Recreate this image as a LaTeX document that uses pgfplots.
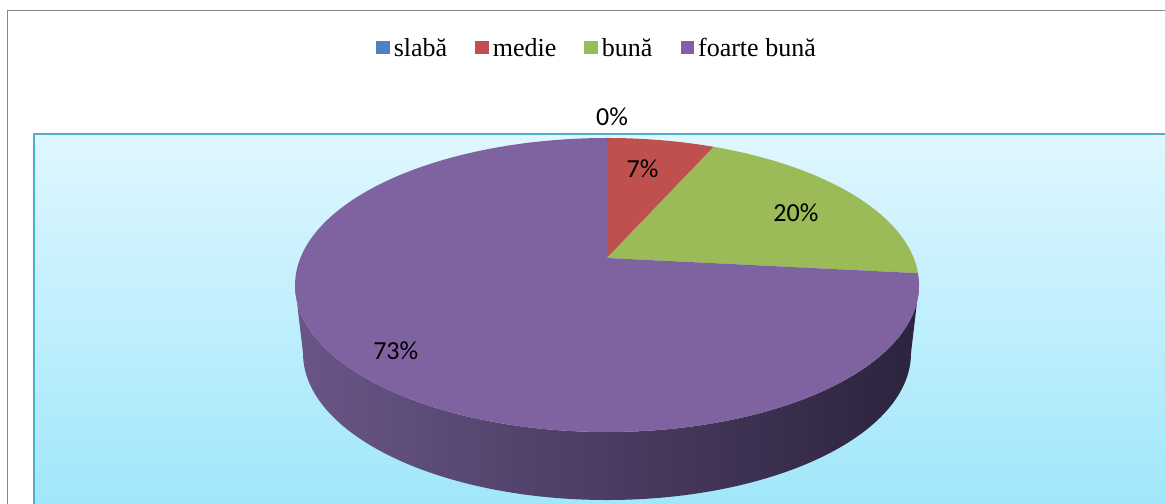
\documentclass[border=0pt]{standalone}
\usepackage{pgfplots}
\usepackage{pgfplotstable}
\pgfplotsset{compat=1.18}
\usepackage{fontspec}
\setmainfont{Liberation Serif}
\newfontfamily\labelfont{Carlito}

\definecolor{slabaC}{HTML}{4F81BD}
\definecolor{medieC}{HTML}{C0504D}
\definecolor{bunaC}{HTML}{9BBB59}
\definecolor{fbunaC}{HTML}{7F62A0}
\definecolor{sideL}{HTML}{6A5687}
\definecolor{sideM}{HTML}{46385C}
\definecolor{sideR}{HTML}{2C233D}
\definecolor{areaTop}{HTML}{DFF7FE}
\definecolor{areaBot}{HTML}{9FE6FB}
\definecolor{areaLine}{HTML}{4FAFCB}

% shares in percent
\pgfplotstableread{
cat share
slaba 0
medie 6.67
buna 20
fbuna 73.33
}\shares

% pie geometry, in px of the picture
\def\cx{607}\def\cy{258}   % apex
\def\ecy{285}              % centre of the top ellipse
\def\rx{312}\def\ry{147}
\def\rxb{304}              % bottom rim is a bit narrower
\def\persp{0.184}
\def\Kx{306.7}\def\Cy{142.1}
\def\depth{68}

% angle #1, radius factor #2 -> #3x, #3y, #3t (angle on the ellipse)
\newcommand\piepoint[3]{%
  \pgfmathsetmacro\pden{1+\persp*(#2)*sin(#1)}%
  \pgfmathsetmacro\pX{(#2)*\Kx*cos(#1)/\pden}%
  \pgfmathsetmacro\pY{(#2)*\Cy*sin(#1)/\pden}%
  \pgfmathsetmacro\ptmp{\cx+\pX}\expandafter\xdef\csname #3x\endcsname{\ptmp}%
  \pgfmathsetmacro\ptmp{\cy-\pY}\expandafter\xdef\csname #3y\endcsname{\ptmp}%
  \pgfmathsetmacro\ptmp{atan2((\pY+\ecy-\cy)/\ry,\pX/\rx)}%
  \expandafter\xdef\csname #3t\endcsname{\ptmp}%
}

% label point for a slice: mid angle #1, share #2, name #3
\newcommand\labelpoint[3]{%
  \pgfmathsetmacro\lr{ifthenelse(#2<1,1.2,0.8)}%
  \piepoint{#1}{\lr}{#3}%
  \pgfmathsetmacro\ltmp{\csname #3x\endcsname+ifthenelse(#2<1,5,-9)}%
  \expandafter\xdef\csname #3x\endcsname{\ltmp}%
  \pgfmathsetmacro\ltmp{\csname #3y\endcsname+ifthenelse(#2<1,-2,8)}%
  \expandafter\xdef\csname #3y\endcsname{\ltmp}%
}

\newcommand\slice[3]{%
  \pgfmathsetmacro\sS{\csname #2t\endcsname}%
  \pgfmathsetmacro\sE{\csname #3t\endcsname}%
  \pgfmathsetmacro\sE{ifthenelse(\sE>\sS+0.001,\sE-360,\sE)}%
  \edef\slicecmd{\noexpand\fill[#1] (axis cs:\cx,\cy) --
    (axis cs:\csname #2x\endcsname,\csname #2y\endcsname)
    arc[start angle=\sS,end angle=\sE,x radius=\rx*0.5pt,y radius=\ry*0.5pt] -- cycle;}%
  \slicecmd}

\begin{document}
\begin{tikzpicture}
  \pgfplotstablegetelem{0}{share}\of\shares\let\vA\pgfplotsretval
  \pgfplotstablegetelem{1}{share}\of\shares\let\vB\pgfplotsretval
  \pgfplotstablegetelem{2}{share}\of\shares\let\vC\pgfplotsretval
  \pgfplotstablegetelem{3}{share}\of\shares\let\vD\pgfplotsretval
  \pgfmathsetmacro\aA{90}
  \pgfmathsetmacro\aB{\aA-3.6*\vA}
  \pgfmathsetmacro\aC{\aB-3.6*\vB}
  \pgfmathsetmacro\aD{\aC-3.6*\vC}
  \pgfmathsetmacro\aE{\aD-3.6*\vD}
  \piepoint{\aA}{1}{pA}\piepoint{\aB}{1}{pB}\piepoint{\aC}{1}{pC}
  \piepoint{\aD}{1}{pD}\piepoint{\aE}{1}{pE}
  \labelpoint{(\aA+\aB)/2}{\vA}{lA}
  \labelpoint{(\aB+\aC)/2}{\vB}{lB}
  \labelpoint{(\aC+\aD)/2}{\vC}{lC}
  \labelpoint{(\aD+\aE)/2}{\vD}{lD}
  \pgfmathsetmacro\exl{\cx-\rx}
  \pgfmathsetmacro\exr{\cx+\rxb}
  \pgfmathsetmacro\eyb{\ecy+\depth}

  \begin{axis}[
    name=ax,
    x=0.5pt, y=0.5pt,
    xmin=0, xmax=1165, ymin=0, ymax=503,
    y dir=reverse,
    enlargelimits=false,
    hide axis,
    legend columns=4,
    legend cell align=left,
    legend image code/.code={\fill[#1] (0pt,-2.7pt) rectangle (6.8pt,4.1pt);},
    legend style={at={(axis cs:598,49)}, anchor=center, draw=none, fill=none,
      font=\fontsize{13pt}{15pt}\selectfont,
      nodes={inner xsep=2pt},
      /tikz/every even column/.append style={column sep=12pt}},
  ]
    % chart border and plot area
    \draw[color=black!47, line width=0.75pt] (axis cs:7.5,700) |- (axis cs:1300,10.5);
    \shade[top color=areaTop, bottom color=areaBot] (axis cs:34,134) rectangle (axis cs:1300,515);
    \draw[color=areaLine, line width=1pt] (axis cs:34,700) |- (axis cs:1300,134);

    % side of the pie
    \shade[left color=sideL, middle color=sideM, right color=sideR]
      (axis cs:\exl,\ecy) arc[start angle=180, end angle=360, x radius=\rx*0.5pt, y radius=\ry*0.5pt]
      -- (axis cs:\exr,\eyb)
      arc[start angle=0, end angle=-180, x radius=\rxb*0.5pt, y radius=\ry*0.5pt] -- cycle;

    % top of the pie
    \slice{slabaC}{pA}{pB}
    \slice{medieC}{pB}{pC}
    \slice{bunaC}{pC}{pD}
    \slice{fbunaC}{pD}{pE}

    % data labels
    \begin{scope}[every node/.style={font=\labelfont\fontsize{13pt}{15pt}\selectfont, inner sep=0pt},
                  /pgf/number format/.cd, fixed, precision=0, assume math mode=true]
      \node at (axis cs:\lAx,\lAy) {\pgfmathprintnumber{\vA}\%};
      \node at (axis cs:\lBx,\lBy) {\pgfmathprintnumber{\vB}\%};
      \node at (axis cs:\lCx,\lCy) {\pgfmathprintnumber{\vC}\%};
      \node at (axis cs:\lDx,\lDy) {\pgfmathprintnumber{\vD}\%};
    \end{scope}

    \addlegendimage{fill=slabaC, draw=none}\addlegendentry{slabă}
    \addlegendimage{fill=medieC, draw=none}\addlegendentry{medie}
    \addlegendimage{fill=bunaC, draw=none}\addlegendentry{bună}
    \addlegendimage{fill=fbunaC, draw=none}\addlegendentry{foarte bună}
  \end{axis}
  \pgfresetboundingbox
  \useasboundingbox (ax.south west) rectangle (ax.north east);
\end{tikzpicture}
\end{document}
